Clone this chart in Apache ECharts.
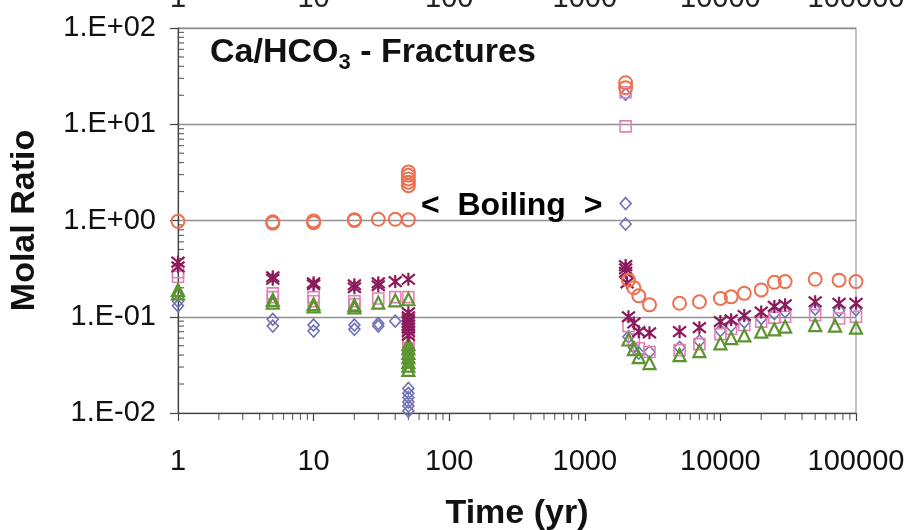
<!DOCTYPE html>
<html>
<head>
<meta charset="utf-8">
<script src="https://cdn.jsdelivr.net/npm/echarts@6/dist/echarts.min.js"></script>
<style>
html,body{margin:0;padding:0;background:#fff;}
#chart{width:911px;height:530px;}
</style>
</head>
<body>
<div id="chart"></div>
<script>
// ---- Data (time in yr, molal ratio) ----
const xTickValues = [1, 10, 100, 1000, 10000, 100000];
const yTickValues = [0.01, 0.1, 1, 10, 100];
const minorMultipliers = [2, 3, 4, 5, 6, 7, 8, 9];

const circleData = [
  [1, 0.98], [5, 0.94], [5, 0.97], [10, 0.95], [10, 0.99], [20, 1.0], [20, 1.02],
  [30, 1.03], [40, 1.03], [50, 1.02], [50, 2.3], [50, 2.5], [50, 2.7], [50, 2.95], [50, 3.2],
  [2000, 24], [2000, 27], [2100, 0.24], [2300, 0.2], [2500, 0.165], [3000, 0.133],
  [5000, 0.138], [7000, 0.143], [10000, 0.155], [12000, 0.161], [15000, 0.175],
  [20000, 0.19], [25000, 0.228], [30000, 0.232], [50000, 0.245], [75000, 0.24], [100000, 0.232]
];
const asteriskData = [
  [1, 0.37], [1, 0.33], [5, 0.26], [5, 0.245], [10, 0.225], [10, 0.215], [20, 0.215], [20, 0.2],
  [30, 0.225], [30, 0.21], [40, 0.232], [50, 0.245], [50, 0.11], [50, 0.1], [50, 0.094],
  [50, 0.088], [50, 0.082], [50, 0.076], [50, 0.07], [50, 0.064],
  [2000, 0.34], [2000, 0.315], [2000, 0.29], [2050, 0.225], [2100, 0.1], [2300, 0.086],
  [2500, 0.07], [3000, 0.068], [5000, 0.07], [7000, 0.077], [10000, 0.089], [12000, 0.093],
  [15000, 0.103], [20000, 0.112], [25000, 0.128], [30000, 0.133], [50000, 0.143],
  [75000, 0.138], [100000, 0.138]
];
const squareData = [
  [1, 0.29], [1, 0.26], [5, 0.175], [5, 0.16], [10, 0.16], [10, 0.145], [20, 0.145], [20, 0.135],
  [30, 0.155], [40, 0.16], [50, 0.16], [50, 0.068], [50, 0.06], [50, 0.053], [50, 0.047],
  [2000, 21.5], [2000, 9.5], [2100, 0.08], [2300, 0.058], [2500, 0.047], [3000, 0.043],
  [5000, 0.045], [7000, 0.052], [10000, 0.066], [12000, 0.075], [15000, 0.082], [20000, 0.089],
  [25000, 0.098], [30000, 0.1], [50000, 0.104], [75000, 0.096], [100000, 0.1]
];
const triangleData = [
  [1, 0.19], [1, 0.175], [5, 0.15], [5, 0.14], [10, 0.135], [10, 0.128], [20, 0.132], [20, 0.125],
  [30, 0.14], [40, 0.148], [50, 0.152], [50, 0.052], [50, 0.047], [50, 0.042], [50, 0.038],
  [50, 0.034], [50, 0.031], [50, 0.028], [2100, 0.058], [2300, 0.046], [2500, 0.038], [3000, 0.033],
  [5000, 0.04], [7000, 0.044], [10000, 0.053], [12000, 0.06], [15000, 0.064], [20000, 0.07],
  [25000, 0.074], [30000, 0.079], [50000, 0.082], [70000, 0.081], [100000, 0.077]
];
const diamondData = [
  [1, 0.145], [1, 0.13], [5, 0.094], [5, 0.08], [10, 0.082], [10, 0.071], [20, 0.082], [20, 0.074],
  [30, 0.085], [30, 0.08], [40, 0.09], [50, 0.018], [50, 0.016], [50, 0.0145], [50, 0.013],
  [50, 0.0118], [50, 0.0105], [2000, 20.5], [2000, 1.5], [2000, 0.92], [2100, 0.062],
  [2300, 0.048], [2500, 0.042], [3000, 0.043], [5000, 0.048], [7000, 0.056], [10000, 0.072],
  [12000, 0.08], [15000, 0.088], [20000, 0.096], [25000, 0.108], [30000, 0.113], [50000, 0.12],
  [75000, 0.116], [100000, 0.118]
];

// minor tick positions (axis decoration)
const xMinor = [];
xTickValues.slice(0, -1).forEach(d => minorMultipliers.forEach(m => xMinor.push([d * m, 0.01])));
const yMinor = [];
yTickValues.slice(0, -1).forEach(d => minorMultipliers.forEach(m => yMinor.push([1, d * m])));

const FONT = '"Liberation Sans", Arial, sans-serif';
const chart = echarts.init(document.getElementById('chart'), null, {renderer: 'canvas'});

function hollow(name, data, symbol, size, color, bw) {
  return {
    name, type: 'scatter', data, symbol, symbolSize: size, clip: false,
    itemStyle: {color: 'rgba(0,0,0,0)', borderColor: color, borderWidth: bw, opacity: 1},
    emphasis: {disabled: true}, z: 5
  };
}

const option = {
  animation: false,
  backgroundColor: '#fff',
  grid: {left: 178, right: 55, top: 28, bottom: 117, outerBoundsMode: 'none', containLabel: false,
    show: true, borderColor: '#9a9a9a', borderWidth: 1.2, backgroundColor: 'transparent'},
  xAxis: [{
    type: 'log', logBase: 10, min: 1, max: 100000, position: 'bottom',
    axisLine: {show: true, lineStyle: {color: '#444', width: 1.2}},
    axisTick: {show: true, length: 8, lineStyle: {color: '#444', width: 1.2}},
    axisLabel: {fontFamily: FONT, fontSize: 29, color: '#111', margin: 34, formatter: v => String(Math.round(v))},
    splitLine: {show: false},
    name: 'Time (yr)', nameLocation: 'middle', nameGap: 84,
    nameTextStyle: {fontFamily: FONT, fontSize: 34, fontWeight: 'bold', color: '#111'}
  }, {
    type: 'log', logBase: 10, min: 1, max: 100000, position: 'top',
    axisLine: {show: false}, axisTick: {show: false}, splitLine: {show: false},
    axisLabel: {fontFamily: FONT, fontSize: 29, color: '#222', margin: 15, formatter: v => String(Math.round(v))}
  }],
  yAxis: [{
    type: 'log', logBase: 10, min: 0.01, max: 100,
    axisLine: {show: true, lineStyle: {color: '#444', width: 1.2}},
    axisTick: {show: true, length: 8, lineStyle: {color: '#444', width: 1.2}},
    axisLabel: {fontFamily: FONT, fontSize: 29, color: '#111', margin: 22,
      formatter: v => { const e = Math.round(Math.log10(v)); return '1.E' + (e < 0 ? '-' : '+') + String(Math.abs(e)).padStart(2, '0'); }},
    splitLine: {show: true, lineStyle: {color: '#8f8f8f', width: 1.3}},
    name: 'Molal Ratio', nameLocation: 'middle', nameGap: 136,
    nameTextStyle: {fontFamily: FONT, fontSize: 34, fontWeight: 'bold', color: '#111'}
  }],
  graphic: [
    {type: 'text', left: 210, top: 36, z: 10,
      style: {text: '{a|Ca/HCO}{b|3}{a| - Fractures}', fill: '#111',
        rich: {
          a: {fontFamily: FONT, fontSize: 34, fontWeight: 'bold', lineHeight: 42, verticalAlign: 'middle', fill: '#111'},
          b: {fontFamily: FONT, fontSize: 22, fontWeight: 'bold', lineHeight: 42, verticalAlign: 'bottom', fill: '#111'}
        }}},
    {type: 'text', left: 421, top: 190, z: 10,
      style: {text: '<  Boiling  >', font: 'bold 32px ' + FONT, fill: '#000'}}
  ],
  series: [
    {type: 'scatter', data: xMinor, symbol: 'rect', symbolSize: [1.2, 7], symbolOffset: [0, 3.5], clip: false, silent: true,
      itemStyle: {color: '#444'}, z: 3},
    {type: 'scatter', data: yMinor, symbol: 'rect', symbolSize: [6, 1.2], symbolOffset: [3, 0], clip: false, silent: true,
      itemStyle: {color: '#444'}, z: 3},
    hollow('diamonds', diamondData, 'diamond', [11, 12], '#7070b8', 1.6),
    hollow('squares', squareData, 'rect', 11, '#e083b3', 1.6),
    hollow('triangles', triangleData, 'triangle', 12, '#5c9430', 2.2),
    hollow('asterisks', asteriskData, 'path://M1,1L9,9M9,1L1,9M5,0L5,10', 13, '#8c1b5b', 2.2),
    hollow('circles', circleData, 'circle', 13, '#ec7150', 2)
  ]
};
chart.setOption(option);
</script>
</body>
</html>
